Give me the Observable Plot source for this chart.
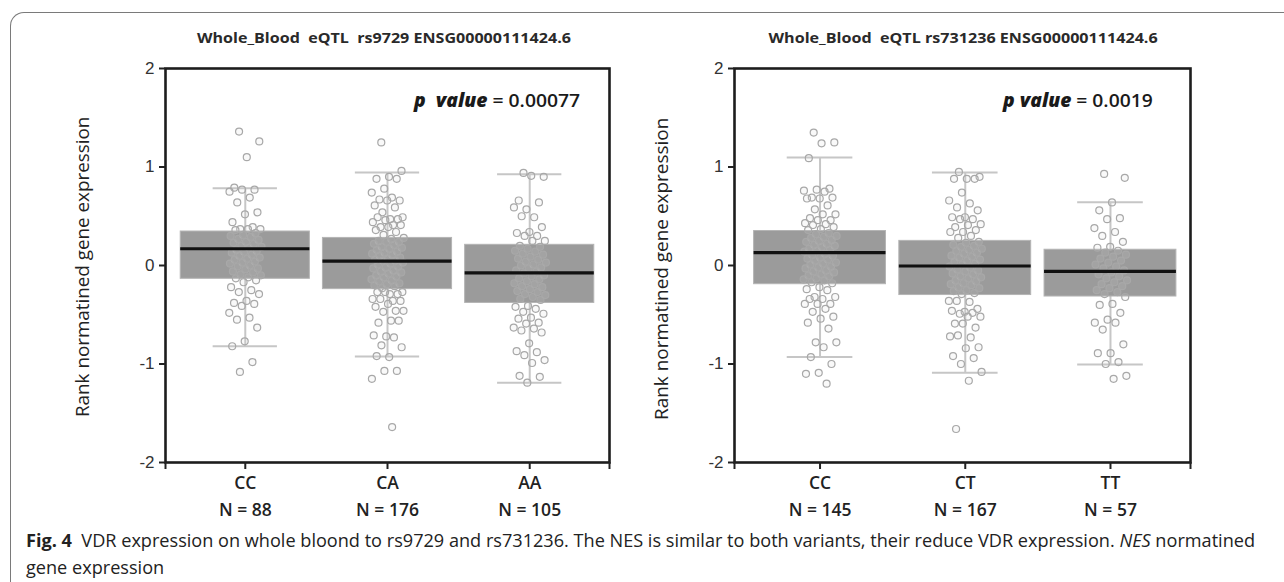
<!DOCTYPE html>
<html>
<head>
<meta charset="utf-8">
<script src="https://cdn.jsdelivr.net/npm/d3@7"></script>
<script src="https://cdn.jsdelivr.net/npm/@observablehq/plot@0.6"></script>
<style>
  html, body { margin: 0; padding: 0; background: #fff; }
  #root { position: relative; width: 1284px; height: 582px; overflow: hidden; background: #fff; }
  #border { position: absolute; left: 10px; top: 12px; width: 1300px; height: 620px;
            border-top: 1.5px solid #7a7a7a; border-left: 1.5px solid #7a7a7a; border-top-left-radius: 14px; }
  .panel { position: absolute; top: 20px; }
</style>
</head>
<body>
<div id="root">
  <div id="border"></div>
  <div id="p1" class="panel" style="left:0px"></div>
  <div id="p2" class="panel" style="left:640px"></div>
</div>
<script>
// ---------- data ----------
const leftCats = ["CC", "CA", "AA"];
const leftN = [88, 176, 105];
const leftQ1 = [-0.135, -0.24, -0.38];
const leftMedian = [0.17, 0.044, -0.074];
const leftQ3 = [0.345, 0.28, 0.21];
const leftLow = [-0.82, -0.924, -1.19];
const leftHigh = [0.785, 0.944, 0.927];
const leftPointsCC = [1.36,1.26,1.10,0.79,0.77,0.77,0.75,0.69,0.64,0.54,0.52,0.44,0.39,0.37,0.37,0.37,0.36,
  0.33,0.31,0.30,0.29,0.27,0.26,0.24,0.23,0.22,0.20,0.19,0.18,0.16,0.15,0.14,0.13,0.11,0.10,0.08,0.07,0.06,0.04,0.03,0.02,0.00,-0.01,-0.03,-0.04,-0.06,-0.07,-0.09,-0.10,-0.12,-0.13,
  -0.15,-0.17,-0.22,-0.25,-0.27,-0.29,-0.36,-0.38,-0.39,-0.41,-0.48,-0.53,-0.55,-0.63,-0.77,-0.82,-0.98,-1.08];
const leftPointsCA = [1.25,0.96,0.90,0.88,0.88,0.78,0.74,0.69,0.67,0.66,0.66,0.61,0.59,0.54,0.49,0.47,0.49,0.47,0.46,0.44,0.41,0.39,0.41,0.39,0.36,0.34,0.31,
  0.28,0.27,0.25,0.24,0.24,0.22,0.21,0.19,0.18,0.17,0.16,0.14,0.13,0.12,0.11,0.10,0.08,0.07,0.06,0.05,0.05,0.03,0.02,0.01,-0.01,-0.02,-0.03,-0.05,-0.06,-0.07,-0.08,-0.10,-0.11,-0.12,-0.14,-0.15,-0.16,-0.18,-0.19,-0.20,-0.21,-0.23,
  -0.27,-0.29,-0.27,-0.29,-0.27,-0.34,-0.36,-0.34,-0.36,-0.39,-0.42,-0.46,-0.47,-0.46,-0.56,-0.58,-0.56,-0.72,-0.71,-0.73,-0.81,-0.83,-0.93,-0.92,-1.07,-1.07,-1.15,-1.64];
const leftPointsAA = [0.94,0.90,0.91,0.66,0.64,0.57,0.59,0.49,0.50,0.39,0.34,0.33,0.30,0.30,0.25,0.25,
  0.20,0.19,0.17,0.15,0.14,0.12,0.11,0.09,0.07,0.06,0.04,0.03,0.01,0.00,-0.02,-0.03,-0.05,-0.06,-0.08,-0.10,-0.11,-0.13,-0.14,-0.16,-0.18,-0.19,-0.21,-0.22,-0.24,-0.26,-0.27,-0.29,-0.30,-0.32,-0.34,-0.35,
  -0.41,-0.42,-0.44,-0.47,-0.49,-0.53,-0.54,-0.58,-0.59,-0.63,-0.64,-0.66,-0.68,-0.79,-0.87,-0.88,-0.91,-0.96,-0.99,-1.12,-1.13,-1.19];

const rightCats = ["CC", "CT", "TT"];
const rightN = [145, 167, 57];
const rightQ1 = [-0.19, -0.30, -0.315];
const rightMedian = [0.13, -0.005, -0.06];
const rightQ3 = [0.35, 0.25, 0.16];
const rightLow = [-0.93, -1.09, -1.005];
const rightHigh = [1.096, 0.944, 0.643];
const rightPointsCC = [1.35,1.25,1.24,1.09,0.78,0.77,0.76,0.75,0.69,0.69,0.68,0.68,0.61,0.57,0.52,0.52,0.48,0.46,0.46,0.43,0.42,0.41,0.39,0.37,0.36,
  0.33,0.32,0.30,0.29,0.28,0.26,0.25,0.24,0.22,0.21,0.20,0.19,0.17,0.16,0.15,0.14,0.12,0.11,0.10,0.08,0.07,0.06,0.05,0.03,0.02,0.01,-0.01,-0.02,-0.03,-0.05,-0.06,-0.07,-0.09,-0.10,-0.11,-0.13,-0.14,-0.15,-0.17,-0.18,
  -0.22,-0.24,-0.25,-0.32,-0.32,-0.34,-0.34,-0.39,-0.39,-0.39,-0.44,-0.47,-0.52,-0.54,-0.58,-0.64,-0.78,-0.78,-0.83,-0.93,-1.0,-1.09,-1.10,-1.20];
const rightPointsCT = [0.95,0.90,0.88,0.88,0.88,0.74,0.66,0.63,0.59,0.56,0.49,0.49,0.47,0.47,0.42,0.41,0.39,0.36,0.34,0.34,0.30,0.28,
  0.24,0.23,0.21,0.20,0.19,0.17,0.16,0.15,0.13,0.12,0.10,0.09,0.08,0.06,0.05,0.04,0.02,0.01,-0.01,-0.02,-0.04,-0.05,-0.06,-0.08,-0.09,-0.11,-0.12,-0.13,-0.15,-0.16,-0.18,-0.19,-0.20,-0.22,-0.23,-0.25,-0.26,-0.28,-0.29,
  -0.36,-0.37,-0.36,-0.44,-0.47,-0.46,-0.48,-0.49,-0.52,-0.52,-0.59,-0.63,-0.59,-0.72,-0.73,-0.71,-0.83,-0.84,-0.92,-0.94,-1.0,-1.08,-1.17,-1.66];
const rightPointsTT = [0.93,0.89,0.64,0.56,0.48,0.47,0.38,0.34,0.30,0.24,0.19,0.18,
  0.15,0.13,0.11,0.09,0.07,0.05,0.03,0.01,-0.01,-0.03,-0.05,-0.07,-0.09,-0.11,-0.13,-0.15,-0.17,-0.19,-0.21,-0.23,-0.25,-0.27,-0.29,
  -0.32,-0.39,-0.40,-0.48,-0.55,-0.58,-0.58,-0.65,-0.80,-0.89,-0.89,-0.98,-1.0,-1.12,-1.15];

const yTicks = [-2, -1, 0, 1, 2];
const leftTitle = "Whole_Blood&nbsp; eQTL&nbsp; rs9729 ENSG00000111424.6";
const rightTitle = "Whole_Blood&nbsp; eQTL rs731236 ENSG00000111424.6";
const leftP = ["p&nbsp; value", "= 0.00077"];
const rightP = ["p value", "= 0.0019"];
const yLabel = "Rank normatined gene expression";
const captionLine1 = "<b>Fig. 4</b>&nbsp; VDR expression on whole bloond to rs9729 and rs731236. The NES is similar to both variants, their reduce VDR expression. <i>NES</i> normatined";
const captionLine2 = "gene expression";

// ---------- chart ----------
function jitter(k) { // deterministic spread of points inside a column
  const f = (k * 0.6180339887 + 0.31) % 1;
  return (f - 0.5) * 0.23;
}

function panel({cats, N, q1, med, q3, lo, hi, pts, width, marginLeft, marginRight, domain}) {
  const boxes = cats.map((c, i) => ({i, c, n: N[i], q1: q1[i], med: med[i], q3: q3[i], lo: lo[i], hi: hi[i]}));
  const points = pts.flatMap((arr, ci) => arr.map((v, k) => ({ci, v, k})));
  const bw = 0.454, cw = 0.226;
  return Plot.plot({
    width, height: 520,
    marginTop: 48, marginBottom: 78, marginLeft, marginRight,
    x: {type: "linear", domain, axis: null},
    y: {domain: [-2, 2], axis: null},
    style: {fontFamily: "'Liberation Sans', Arial, sans-serif", fontSize: "16px", background: "none", overflow: "visible", color: "#333"},
    marks: [
      Plot.ruleX(boxes, {x: "i", y1: "lo", y2: "hi", stroke: "#c6c6c6", strokeWidth: 2}),
      Plot.ruleY(boxes, {x1: d => d.i - cw, x2: d => d.i + cw, y: "hi", stroke: "#c6c6c6", strokeWidth: 2}),
      Plot.ruleY(boxes, {x1: d => d.i - cw, x2: d => d.i + cw, y: "lo", stroke: "#c6c6c6", strokeWidth: 2}),
      Plot.rect(boxes, {x1: d => d.i - bw, x2: d => d.i + bw, y1: "q1", y2: "q3", fill: "#9b9b9b", stroke: "#b4b4b4", strokeWidth: 1}),
      Plot.dot(points, {x: d => d.ci + jitter(d.k), y: "v", r: 3.5, stroke: "#a8a8a8", strokeWidth: 1.2, fill: "#d4d4d4", fillOpacity: 0.15}),
      Plot.ruleY(boxes, {x1: d => d.i - bw, x2: d => d.i + bw, y: "med", stroke: "#111", strokeWidth: 3.2}),
      Plot.frame({stroke: "#1d1d1d", strokeWidth: 2.6}),
      Plot.axisY({ticks: yTicks, tickSize: 6, tickFormat: () => "", label: null, stroke: "#222", strokeWidth: 2}),
      Plot.text(yTicks, {y: d => d, text: d => String(d), frameAnchor: "left", dx: -11, textAnchor: "end", lineAnchor: "middle",
                         fontFamily: "'Liberation Sans', Arial, sans-serif", fontSize: 17, fill: "#333"}),
      Plot.axisX({ticks: [domain[0], 0, 1, 2, domain[1]], tickSize: 7, tickFormat: () => "", label: null,
                  stroke: "#222", strokeWidth: 2}),
      Plot.text(boxes, {x: "i", text: "c", frameAnchor: "bottom", dy: 21, lineAnchor: "middle",
                        fontFamily: "'Open Sans', sans-serif", fontSize: 17.5, fontWeight: 600, fill: "#222"}),
      Plot.text(boxes, {x: "i", text: d => "N = " + d.n, frameAnchor: "bottom", dy: 48, lineAnchor: "middle",
                        fontFamily: "'Open Sans', sans-serif", fontSize: 17.5, fontWeight: 600, fill: "#222"})
    ]
  });
}

document.getElementById("p1").appendChild(panel({
  cats: leftCats, N: leftN, q1: leftQ1, med: leftMedian, q3: leftQ3, lo: leftLow, hi: leftHigh,
  pts: [leftPointsCC, leftPointsCA, leftPointsAA],
  width: 640, marginLeft: 165, marginRight: 31, domain: [-0.561, 2.561]
}));
document.getElementById("p2").appendChild(panel({
  cats: rightCats, N: rightN, q1: rightQ1, med: rightMedian, q3: rightQ3, lo: rightLow, hi: rightHigh,
  pts: [rightPointsCC, rightPointsCT, rightPointsTT],
  width: 644, marginLeft: 94, marginRight: 94, domain: [-0.589, 2.551]
}));

// ---------- texts around the plots ----------
const root = document.getElementById("root");
const fitters = [];
function placeText(html, o) {
  const el = document.createElement("div");
  el.innerHTML = html;
  Object.assign(el.style, {position: "absolute", left: "0", top: "0", whiteSpace: "nowrap",
    fontSize: o.size + "px", fontWeight: o.weight || "normal", fontFamily: o.family || "'Open Sans', sans-serif",
    lineHeight: "1", transformOrigin: "0 0", color: o.color || "#222"});
  root.appendChild(el);
  const fit = () => {
    el.style.transform = "none";
    const nw = el.offsetWidth, nh = el.offsetHeight;
    const s = o.scale ? o.scale() : (o.w ? o.w / nw : 1);
    el._s = s;
    const W = nw * s;
    if (o.rotate) {
      el.style.transform = `translate(${o.x - nh / 2}px, ${o.y + W / 2}px) rotate(-90deg) scaleX(${s})`;
    } else {
      const a = o.anchor || "middle";
      const left = a === "middle" ? o.x - W / 2 : a === "end" ? o.x - W : o.x;
      el.style.transform = `translate(${left}px, ${o.y - nh / 2}px) scaleX(${s})`;
    }
  };
  fit(); fitters.push(fit);
  return el;
}

placeText(leftTitle, {x: 384, y: 37, w: 374, size: 15, weight: "bold", color: "#2a2a2a"});
placeText(rightTitle, {x: 963, y: 37, w: 389, size: 15, weight: "bold", color: "#2a2a2a"});
placeText(`<b><i>${leftP[0]}</i></b> ${leftP[1]}`, {x: 580, y: 100, w: 166, size: 18.5, anchor: "end", weight: 600, color: "#1a1a1a"});
placeText(`<b><i>${rightP[0]}</i></b> ${rightP[1]}`, {x: 1153, y: 100, w: 150, size: 18.5, anchor: "end", weight: 600, color: "#1a1a1a"});
placeText(yLabel, {x: 82, y: 267, w: 300, size: 18, rotate: true, color: "#222"});
placeText(yLabel, {x: 661, y: 269, w: 302, size: 18, rotate: true, color: "#222"});
const cap1 = placeText(captionLine1, {x: 26, y: 540, w: 1229, size: 18, anchor: "start", color: "#222"});
placeText(captionLine2, {x: 26, y: 567, size: 18, anchor: "start", color: "#222", scale: () => cap1._s});

if (document.fonts && document.fonts.ready) document.fonts.ready.then(() => fitters.forEach(f => f()));
</script>
</body>
</html>
